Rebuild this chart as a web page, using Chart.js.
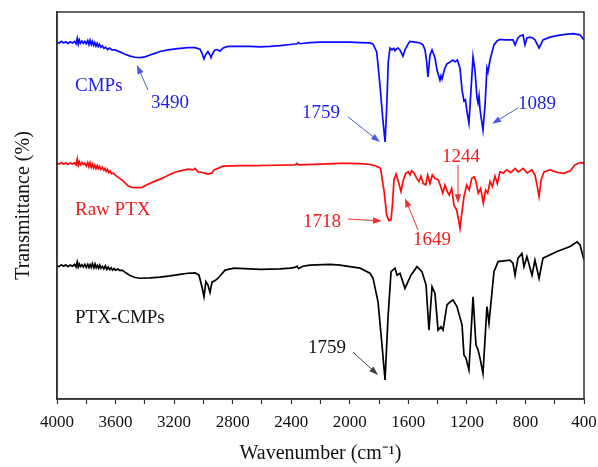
<!DOCTYPE html>
<html>
<head>
<meta charset="utf-8">
<script src="https://cdn.jsdelivr.net/npm/chart.js@4/dist/chart.umd.min.js"></script>
<style>
  html, body { margin: 0; padding: 0; background: #fff; }
  #wrap { width: 598px; height: 467px; }
</style>
</head>
<body>
<div id="wrap"><canvas id="ftir" width="598" height="467"></canvas></div>
<script>
// wavenumbers (cm-1) and transmittance (arbitrary, offset)
const cmpsWn = [4000,3985,3970,3955,3940,3925,3910,3895,3880,3870,3862,3855,3848,3840,3830,3820,3810,3800,3790,3782,3774,3766,3758,3750,3742,3734,3726,3718,3710,3700,3690,3680,3668,3655,3640,3625,3604,3570,3535,3500,3467,3433,3399,3365,3331,3296,3242,3160,3105,3057,3023,3010,2996,2985,2969,2955,2948,2935,2921,2907,2887,2865,2832,2750,2682,2613,2545,2477,2408,2360,2350,2340,2272,2203,2135,2067,1999,1930,1862,1841,1816,1794,1775,1759,1748,1737,1725,1712,1700,1691,1680,1671,1657,1637,1623,1602,1589,1555,1520,1500,1486,1475,1466,1452,1438,1418,1404,1384,1377,1370,1350,1336,1315,1295,1281,1265,1247,1233,1220,1210,1199,1186,1172,1158,1145,1131,1124,1117,1110,1090,1076,1063,1056,1042,1015,994,974,940,906,885,871,851,837,817,803,790,769,750,735,707,680,632,584,530,475,427,400];
const cmpsT = [92.2,92.0,92.4,92.0,92.3,91.9,92.3,92.0,92.4,91.8,93.2,91.7,92.8,91.9,92.5,91.9,92.4,91.8,92.6,91.6,92.7,91.6,92.4,91.4,92.1,91.2,91.9,91.1,91.6,90.9,91.3,90.6,90.9,90.3,90.7,90.2,90.2,89.7,89.1,88.6,88.3,88.2,88.4,88.9,89.3,89.8,90.2,90.6,90.8,90.8,90.4,89.4,87.9,88.9,89.8,88.9,88.2,89.4,90.2,90.3,89.9,90.7,91.1,91.1,91.1,91.0,91.1,91.3,91.6,91.8,92.1,91.8,92.1,92.2,92.2,92.2,92.2,92.1,92.0,91.7,89.7,81.2,72.6,66.4,75.2,87.2,90.7,90.2,90.6,90.0,90.5,90.7,90.2,88.6,90.2,91.7,92.4,92.2,92.0,91.5,90.2,87.1,83.2,88.9,90.2,88.1,85.0,82.4,83.5,82.7,85.5,86.6,87.1,87.6,87.1,87.6,85.5,79.8,77.0,77.3,74.2,71.3,79.8,88.4,85.0,77.8,76.5,78.3,74.7,69.5,76.0,85.5,84.5,87.6,91.5,92.5,92.9,92.8,92.8,92.8,91.5,93.3,93.8,94.1,91.5,93.3,93.5,93.3,92.8,90.7,92.8,93.5,93.9,94.2,94.4,94.1,92.8];

const rawWn = [4000,3985,3970,3955,3940,3925,3910,3895,3880,3870,3862,3855,3848,3840,3830,3820,3810,3800,3790,3782,3774,3766,3758,3750,3742,3734,3726,3718,3710,3700,3690,3680,3672,3664,3655,3646,3638,3628,3616,3604,3580,3556,3515,3488,3455,3419,3378,3330,3283,3240,3194,3150,3105,3071,3057,3037,3010,2985,2969,2941,2927,2900,2866,2750,2647,2500,2374,2360,2350,2200,2067,1999,1930,1862,1821,1790,1765,1748,1732,1718,1708,1698,1684,1668,1650,1634,1618,1600,1589,1577,1561,1543,1527,1514,1498,1481,1468,1452,1436,1418,1395,1379,1365,1350,1334,1320,1304,1288,1270,1259,1247,1233,1220,1201,1184,1167,1151,1138,1122,1106,1088,1072,1058,1042,1026,1008,992,974,951,928,901,871,849,815,788,757,735,719,707,693,673,632,587,541,495,462,427,400];
const rawT = [60.9,60.7,61.1,60.7,61.0,60.6,61.0,60.7,61.0,60.5,62.0,60.4,61.3,60.5,61.1,60.6,60.9,60.2,61.1,60.0,61.0,59.9,60.7,59.7,60.4,59.5,60.3,59.5,60.1,59.3,59.9,59.1,59.6,58.8,59.3,58.5,58.9,58.2,58.4,57.9,57.2,56.6,55.1,54.7,54.6,54.7,55.5,56.3,57.0,57.8,58.6,59.0,59.4,59.2,59.6,58.7,58.6,58.3,58.1,58.4,59.2,59.6,60.2,60.3,60.3,60.4,60.5,60.9,60.5,60.7,60.9,60.9,60.8,60.6,60.2,59.6,53.5,47.5,46.1,46.3,50.5,56.6,58.1,56.2,53.6,56.6,58.3,58.7,57.9,59.0,58.4,57.0,56.2,57.6,55.7,55.3,57.9,55.7,57.9,57.0,56.6,54.9,53.2,55.3,53.6,52.7,54.4,50.1,48.8,46.7,44.1,48.4,52.3,55.3,54.0,57.0,57.4,56.2,53.2,54.4,50.6,54.0,53.2,56.2,54.9,57.6,55.7,58.7,58.4,59.2,58.5,59.6,58.7,59.6,58.4,59.2,57.9,54.9,52.3,56.6,58.7,59.2,58.6,58.3,58.9,60.5,61.1,60.9];

const ptxWn = [4000,3985,3970,3955,3940,3925,3910,3895,3880,3870,3862,3855,3848,3840,3830,3820,3810,3800,3790,3782,3774,3766,3758,3748,3740,3732,3724,3716,3708,3700,3690,3680,3670,3660,3650,3640,3630,3620,3610,3600,3585,3570,3556,3530,3501,3467,3433,3365,3296,3228,3160,3105,3057,3030,3010,2996,2983,2969,2955,2941,2920,2900,2852,2790,2613,2477,2408,2374,2360,2350,2320,2272,2135,2067,1930,1862,1841,1807,1780,1759,1739,1718,1691,1677,1657,1623,1582,1541,1507,1479,1459,1438,1418,1397,1377,1363,1336,1315,1295,1268,1233,1220,1206,1186,1158,1138,1124,1110,1090,1063,1049,1015,987,906,885,871,851,824,810,790,755,735,707,680,584,495,447,427,400];
const ptxT = [34.4,34.2,34.7,34.3,34.7,34.2,34.6,34.3,34.8,34.1,35.4,34.1,34.9,34.2,34.7,34.1,34.8,34.0,34.8,34.0,34.7,34.0,35.0,33.9,34.9,33.9,34.5,33.8,34.6,33.8,34.3,33.6,34.4,33.5,34.1,33.4,33.9,33.3,33.7,33.3,33.6,33.2,33.3,32.6,31.9,31.4,31.2,31.3,31.5,31.8,32.2,32.5,32.6,32.0,29.0,26.4,30.3,29.5,27.5,30.2,30.6,31.2,33.3,33.8,33.5,33.6,33.8,34.0,34.3,33.7,34.3,34.6,34.8,34.6,33.8,32.5,31.2,25.1,14.0,4.9,20.9,32.9,33.8,32.0,32.5,28.6,32.0,34.2,32.9,29.5,17.8,29.0,27.3,17.8,18.7,17.8,24.3,25.1,25.6,23.9,19.1,11.4,10.5,7.5,26.4,14.0,12.7,10.5,6.6,23.9,19.6,32.9,35.5,35.9,35.1,32.0,36.4,37.6,34.2,36.8,32.0,35.9,31.2,36.4,38.1,39.4,40.6,39.8,35.9];

const xTickStep = 200;
const xLabelStep = 400;

function pts(wn, t) { return wn.map((w, i) => ({ x: w, y: t[i] })); }

// text labels and arrows, placed in data units
const notes = [
  { text: 'CMPs', x: 3877, y: 80.9, color: '#1f1fe6', align: 'left' },
  { text: '3490', x: 3228, y: 76.5, color: '#1f1fe6', align: 'center' },
  { text: '1759', x: 2197, y: 73.9, color: '#1f1fe6', align: 'center' },
  { text: '1089', x: 721, y: 76.2, color: '#1f1fe6', align: 'center' },
  { text: 'Raw PTX', x: 3877, y: 48.8, color: '#ee1c1c', align: 'left' },
  { text: '1718', x: 2190, y: 45.7, color: '#ee1c1c', align: 'center' },
  { text: '1649', x: 1438, y: 41.1, color: '#ee1c1c', align: 'center' },
  { text: '1244', x: 1240, y: 62.5, color: '#ee1c1c', align: 'center' },
  { text: 'PTX-CMPs', x: 3877, y: 20.9, color: '#111', align: 'left' },
  { text: '1759', x: 2156, y: 13.2, color: '#111', align: 'center' }
];
const arrows = [
  { from: [3378, 79.8], to: [3454, 86.3], color: '#4a5ad8' },
  { from: [2012, 72.9], to: [1794, 66.4], color: '#4a5ad8' },
  { from: [851, 75.2], to: [1028, 71.1], color: '#4a5ad8' },
  { from: [2012, 46.5], to: [1780, 46.0], color: '#f03030' },
  { from: [1534, 43.7], to: [1623, 51.9], color: '#f03030' },
  { from: [1261, 60.5], to: [1261, 50.6], color: '#f03030' },
  { from: [1978, 12.1], to: [1807, 6.2], color: '#444' }
];

const serif = 'Liberation Serif, Times New Roman, serif';

const notesPlugin = {
  id: 'notes',
  afterDatasetsDraw(chart) {
    const { ctx, chartArea: a, scales: { x, y } } = chart;
    ctx.save();
    // frame
    ctx.strokeStyle = '#333';
    ctx.lineWidth = 1.5;
    ctx.strokeRect(a.left, a.top, a.right - a.left, a.bottom - a.top);

    ctx.font = '19px ' + serif;
    ctx.textBaseline = 'middle';
    notes.forEach(n => {
      ctx.fillStyle = n.color;
      ctx.textAlign = n.align;
      ctx.fillText(n.text, x.getPixelForValue(n.x), y.getPixelForValue(n.y));
    });

    arrows.forEach(ar => {
      const x0 = x.getPixelForValue(ar.from[0]), y0 = y.getPixelForValue(ar.from[1]);
      const x1 = x.getPixelForValue(ar.to[0]), y1 = y.getPixelForValue(ar.to[1]);
      const ang = Math.atan2(y1 - y0, x1 - x0);
      const hl = 9, hw = 3.2;
      ctx.strokeStyle = ar.color;
      ctx.fillStyle = ar.color;
      ctx.lineWidth = 1;
      ctx.beginPath();
      ctx.moveTo(x0, y0);
      ctx.lineTo(x1 - Math.cos(ang) * hl * 0.8, y1 - Math.sin(ang) * hl * 0.8);
      ctx.stroke();
      ctx.beginPath();
      ctx.moveTo(x1, y1);
      ctx.lineTo(x1 - Math.cos(ang) * hl - Math.sin(ang) * hw, y1 - Math.sin(ang) * hl + Math.cos(ang) * hw);
      ctx.lineTo(x1 - Math.cos(ang) * hl + Math.sin(ang) * hw, y1 - Math.sin(ang) * hl - Math.cos(ang) * hw);
      ctx.closePath();
      ctx.fill();
    });
    ctx.restore();
  }
};

new Chart(document.getElementById('ftir'), {
  type: 'line',
  data: {
    datasets: [
      { label: 'CMPs', data: pts(cmpsWn, cmpsT), borderColor: '#0a0aff', borderWidth: 1.7, pointRadius: 0, tension: 0 },
      { label: 'Raw PTX', data: pts(rawWn, rawT), borderColor: '#ff0a0a', borderWidth: 1.7, pointRadius: 0, tension: 0 },
      { label: 'PTX-CMPs', data: pts(ptxWn, ptxT), borderColor: '#000', borderWidth: 1.7, pointRadius: 0, tension: 0 }
    ]
  },
  options: {
    responsive: false,
    animation: false,
    devicePixelRatio: 1,
    layout: { padding: { left: 0, right: 14, top: 12, bottom: 0 } },
    plugins: { legend: { display: false }, tooltip: { enabled: false } },
    scales: {
      x: {
        type: 'linear',
        reverse: true,
        min: 400,
        max: 4000,
        afterBuildTicks: s => {
          s.ticks = [];
          for (let v = 400; v <= 4000; v += xTickStep) s.ticks.push({ value: v });
        },
        ticks: {
          autoSkip: false,
          maxRotation: 0,
          padding: 8,
          color: '#111',
          font: { family: serif, size: 17 },
          callback: v => (v % xLabelStep === 0 ? String(v) : '')
        },
        grid: { drawOnChartArea: false, tickLength: 5, color: '#333', tickWidth: 1.2 },
        border: { color: '#333', width: 1.5 },
        title: { display: true, text: 'Wavenumber (cm\u207B\u00B9)', color: '#111', font: { family: serif, size: 20 }, padding: { top: 0, bottom: 1 } },
        afterFit: s => { s.height = 68; }
      },
      y: {
        min: 0,
        max: 100,
        ticks: { display: false },
        grid: { display: false },
        border: { display: true, color: '#333', width: 1.5 },
        title: { display: true, text: 'Transmittance (%)', color: '#111', font: { family: serif, size: 20 }, padding: { top: 12, bottom: 12 } },
        afterFit: s => { s.width = 57; }
      }
    }
  },
  plugins: [notesPlugin]
});
</script>
</body>
</html>
